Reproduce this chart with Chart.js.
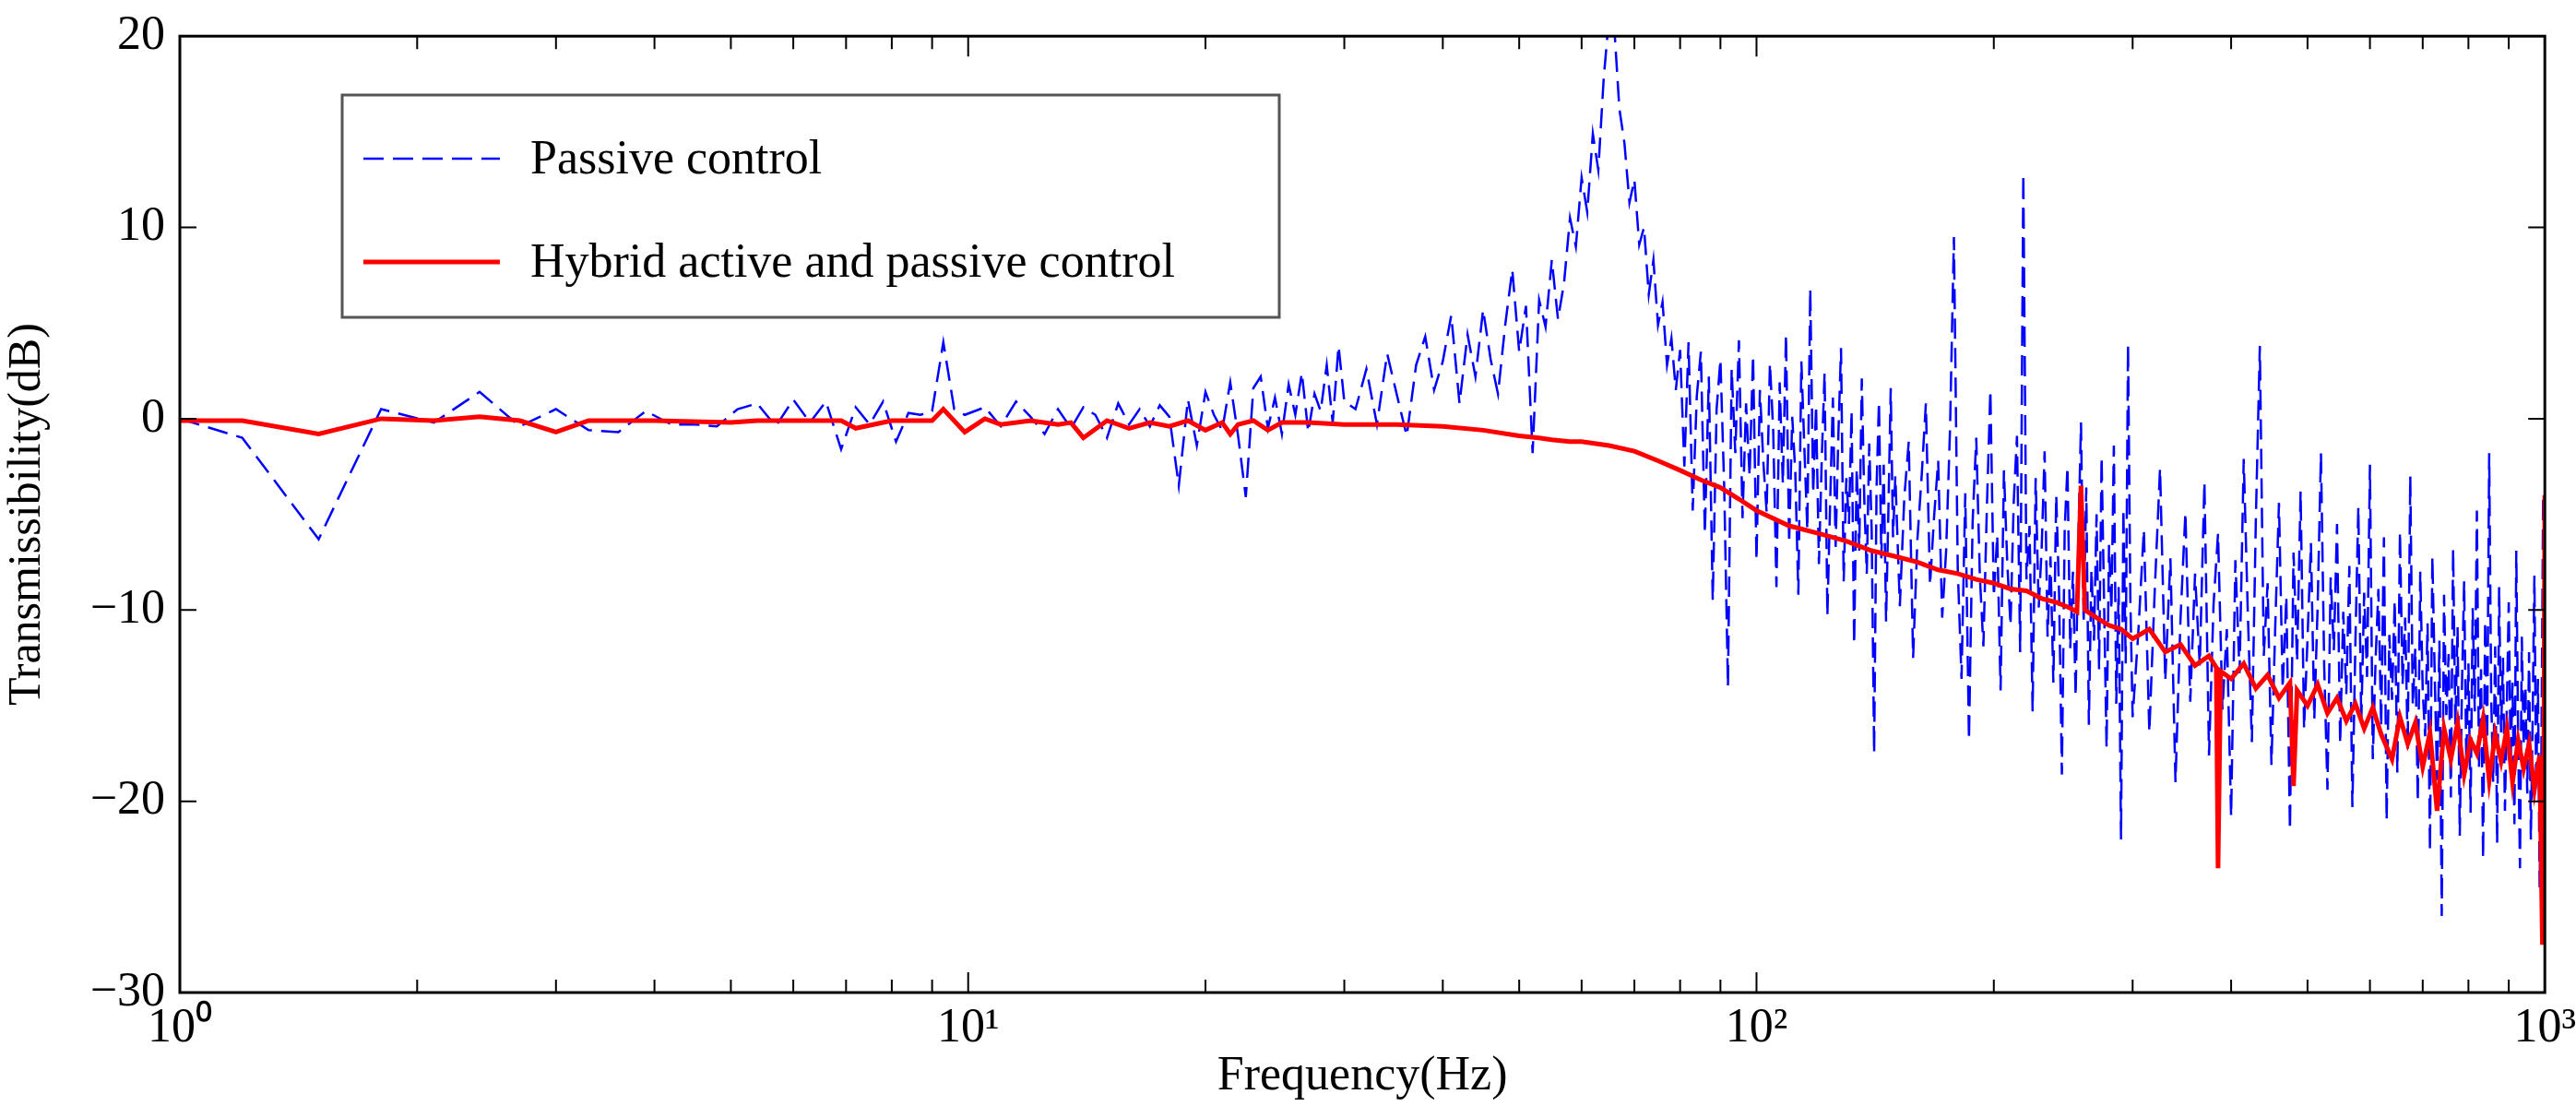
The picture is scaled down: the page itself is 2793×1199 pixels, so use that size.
<!DOCTYPE html>
<html><head><meta charset="utf-8">
<script src="https://cdn.jsdelivr.net/npm/chart.js@4"></script>
<style>html,body{margin:0;padding:0;background:#fff}#wrap{width:2793px;height:1199px}</style>
</head><body><div id="wrap"><canvas id="c" width="2793" height="1199"></canvas></div>
<script>
const seriesNames = ["Passive control", "Hybrid active and passive control"];
const xTickValues = [1, 10, 100, 1000];
const xTickLabels = ["10\u2070", "10\u00b9", "10\u00b2", "10\u00b3"];
const yTickValues = [-30, -20, -10, 0, 10, 20];

const passiveFreq = [1,1.2,1.5,1.8,2.1,2.4,2.7,3.0,3.3,3.6,3.9,4.2,4.5,4.8,5.1,5.4,5.7,6.0,6.3,6.6,6.9,7.2,7.5,7.8,8.1,8.4,8.7,9.0,9.3,9.6,9.9,
10.5,11,11.5,12,12.5,13,13.5,14,14.5,15,15.5,16,16.5,17,17.5,18,18.5,19,19.5,20,20.5,21,21.5,22,22.5,23,23.5,24,24.5,25,25.5,26,26.5,27,27.5,28,28.5,29,29.5,30,
31,32,33,34,35,36,37,38,39,40,41,42,43,44,45,46,47,48,49,50,51,52,53,54,55,56,57,58,59,60,
61,62,63,64,65,66,67,68,69,70,71,72,73,74,75,76,77,78,79,80,
81,82,83,84,85,86,87,88,89,90,91,92,93,94,95,96,97,98,99,100,101,102,103,104,105,106,107,108,109,110,111,112,113,114,115,116,117,118,119,120,121,122,123,124,125,126,127,128,129,130,131,132,133,134,135,136,137,138,139,140,141,142,143,144,145,146,147,148,149,150,
152,154,156,158,160,162,164,166,168,170,172,174,176,178,180,182,184,186,188,190,192,194,196,198,200,202,204,206,208,210,212,214,216,218,220,222,224,226,228,230,232,234,236,238,240,242,244,246,248,250,252,254,256,258,260,262,264,266,268,270,272,274,276,278,280,282,284,286,288,290,292,294,296,298,300,
305,310,315,320,325,330,335,340,345,350,355,360,365,370,375,380,385,390,395,400,405,410,415,420,425,430,435,440,445,450,455,460,465,470,475,480,485,490,495,500,505,510,515,520,525,530,535,540,545,550,555,560,565,570,575,580,585,590,595,600,605,610,615,620,625,630,635,640,645,650,655,660,665,670,675,680,685,690,695,700,705,710,715,720,725,730,735,740,745,750,755,760,765,770,775,780,785,790,795,800,805,810,815,820,825,830,835,840,845,850,855,860,865,870,875,880,885,890,895,900,905,910,915,920,925,930,935,940,945,950,955,960,965,970,975,980,985,990,995,1000];
const passiveDb = [0,-1,-6.3,0.5,-0.2,1.4,-0.4,0.5,-0.6,-0.7,0.4,-0.3,-0.3,-0.4,0.5,0.8,-0.4,1.0,-0.2,0.9,-1.6,0.6,-0.3,0.9,-1.2,0.3,0.2,0.4,4.0,0.5,0.2,
0.6,-0.4,0.9,0.1,-0.8,0.5,-0.5,0.6,0.2,-1.0,0.8,-0.3,0.5,-0.4,0.7,0.1,-3.5,1.0,-1.4,1.4,0.2,-0.6,1.9,-0.9,-4.1,1.6,2.2,-0.5,1.1,-0.8,1.8,0.2,2.4,-0.7,1.3,0.4,2.8,-0.2,3.8,0.9,
0.5,2.6,-0.3,3.4,1.2,-0.9,2.8,4.3,1.5,3.0,5.4,0.8,4.4,2.2,5.7,3.1,1.3,4.9,7.8,3.5,5.9,-1.8,6.2,4.8,8.3,5.2,7.1,10.5,9.0,12.6,
10.8,14.9,13.0,17.8,21.0,20.5,16.2,14.4,11.3,12.5,9.1,10.0,6.5,8.3,4.9,6.1,2.8,4.2,1.5,3.6,
-2.5,4.0,-4.8,1.2,3.5,-6.0,2.2,-9.5,0.5,3.1,-3.6,-14.0,2.6,-1.8,4.1,-5.2,0.8,-3.0,3.3,-7.4,1.5,-2.2,-4.9,2.9,-0.6,-8.8,1.9,-3.4,4.4,-6.5,0.1,-2.8,-9.2,3.0,-1.5,-5.8,6.8,-3.9,0.7,-7.6,-2.1,2.4,-10.3,-4.4,1.1,-6.7,-0.9,3.7,-8.5,-3.1,-5.5,0.4,-11.8,-2.6,-6.9,2.1,-4.2,-8.1,-1.3,-5.9,-17.5,-3.6,0.9,-7.3,-2.4,-10.6,-4.8,1.6,-6.2,-3.0,
-9.8,-4.1,-1.2,-12.5,-6.3,-3.0,0.8,-8.7,-5.1,-2.2,-10.4,-6.9,-0.5,9.5,-7.8,-13.6,-3.9,-16.8,-5.4,-1.0,-8.2,-11.9,-4.6,1.5,-9.3,-6.1,-14.2,-2.7,-7.5,-10.8,-4.3,-0.9,-12.2,12.8,-8.4,-5.6,-15.3,-3.1,-9.9,-6.8,-1.7,-11.4,-7.2,-13.8,-4.0,-9.1,-18.6,-5.8,-2.5,-12.0,-8.0,-14.5,-6.4,-0.2,-10.7,-3.6,-16.0,-7.9,-11.6,-5.0,-13.1,-2.0,-9.6,-17.2,-6.6,-10.0,-1.4,-14.9,-8.8,-22.0,-4.7,-12.8,3.9,-9.4,-15.6,
-11.2,-5.8,-16.4,-9.0,-2.6,-13.7,-7.3,-19.0,-10.5,-4.9,-14.8,-8.1,-12.9,-3.3,-17.6,-9.7,-6.0,-15.2,-11.0,-20.8,-7.4,-13.3,-2.1,-10.2,-16.9,-5.2,3.8,-12.4,-8.6,-18.1,-10.9,-4.4,-14.1,-9.3,-21.5,-7.0,-12.7,-3.8,-16.2,-11.5,-6.5,-15.7,-9.8,-1.8,-13.0,-19.4,-8.3,-12.1,-5.5,-17.0,-10.1,-14.4,-7.7,-20.3,-11.8,-4.6,-15.9,-9.1,-13.5,-2.4,-17.8,-12.6,-8.9,-16.1,-6.2,-21.0,-11.3,-14.7,-9.5,-18.5,-5.9,-13.9,-10.4,-17.3,-3.0,-15.0,-12.0,-20.0,-8.0,-14.2,-16.6,-10.7,-22.6,-7.2,-13.4,-18.9,-11.6,-26.0,-9.2,-15.5,-12.3,-19.8,-6.8,-16.0,-10.9,-21.8,-14.0,-8.5,-17.9,-12.8,-20.6,-9.9,-15.3,-4.8,-18.2,-13.1,-23.0,-10.6,-16.8,-1.8,-14.6,-19.0,-11.9,-22.2,-8.8,-16.4,-12.5,-20.5,-15.1,-9.6,-18.0,-13.8,-21.2,-6.9,-16.7,-23.5,-11.4,-17.1,-14.0,-19.6,-12.2,-22.0,-15.8,-8.2,-19.3,-13.6,-24.5,-17.5,-4.0,-22.5];

const hybridFreq = [1,1.2,1.5,1.8,2.1,2.4,2.7,3.0,3.3,4,5,5.4,6,6.9,7.2,8,9,9.3,9.9,10.5,11,12,13,13.5,14,15,16,17,18,19,20,21,21.5,22,23,24,25,27,30,35,40,45,50,53,55,58,60,65,70,75,80,85,90,95,
100,110,120,130,140,150,160,170,180,190,200,210,220,230,240,250,255,258,261,270,280,290,300,315,330,345,360,375,383,385,388,400,415,430,445,460,475,480,485,500,515,530,545,560,575,590,605,620,640,655,670,685,700,715,730,745,760,775,790,805,820,835,850,865,880,895,910,925,940,955,970,985,993,997,1000];
const hybridDb = [-0.1,-0.1,-0.8,0,-0.1,0.1,-0.1,-0.7,-0.1,-0.1,-0.2,-0.1,-0.1,-0.1,-0.5,-0.1,-0.1,0.5,-0.7,0.0,-0.3,-0.1,-0.3,-0.2,-1.0,-0.1,-0.5,-0.2,-0.4,-0.1,-0.6,-0.2,-0.8,-0.3,-0.1,-0.6,-0.2,-0.2,-0.3,-0.3,-0.4,-0.6,-0.9,-1.0,-1.1,-1.2,-1.2,-1.4,-1.7,-2.2,-2.7,-3.2,-3.6,-4.2,
-4.8,-5.6,-6.0,-6.4,-6.9,-7.2,-7.5,-7.9,-8.1,-8.4,-8.6,-8.9,-9.0,-9.4,-9.6,-9.9,-10.1,-3.5,-10.0,-10.4,-10.8,-11.0,-11.5,-11.0,-12.2,-11.8,-12.9,-12.4,-13.0,-23.5,-13.2,-13.6,-12.8,-14.1,-13.4,-14.6,-13.8,-19.2,-14.2,-15.0,-13.9,-15.4,-14.6,-15.8,-14.9,-16.2,-15.1,-16.5,-17.8,-15.6,-17.0,-15.9,-18.2,-16.4,-20.5,-16.2,-17.8,-15.9,-18.6,-16.8,-17.5,-15.7,-18.9,-16.5,-17.9,-16.2,-19.0,-16.8,-18.3,-17.0,-19.4,-17.6,-27.5,-18.0,-4.0];

const FONT = "Liberation Serif";
const toPts = (xs, ys) => xs.map((x, i) => ({x: x, y: ys[i]}));

const frame = {
  id: 'frame',
  afterDraw(chart) {
    const {ctx, chartArea: a, scales: {x, y}} = chart;
    ctx.save();
    ctx.strokeStyle = '#000';
    ctx.lineWidth = 3;
    ctx.strokeRect(a.left, a.top, a.right - a.left, a.bottom - a.top);
    ctx.lineWidth = 2;
    ctx.beginPath();
    for (let d = 1; d < 1000; d *= 10) {
      for (let m = 1; m <= 10; m++) {
        const v = d * m;
        if (v <= 1 || v >= 1000) continue;
        const px = x.getPixelForValue(v);
        const L = (m === 10 || m === 1) ? 22 : 14;
        ctx.moveTo(px, a.bottom); ctx.lineTo(px, a.bottom - L);
        ctx.moveTo(px, a.top); ctx.lineTo(px, a.top + L);
      }
    }
    yTickValues.forEach(v => {
      if (v <= -30 || v >= 20) return;
      const py = y.getPixelForValue(v);
      ctx.moveTo(a.left, py); ctx.lineTo(a.left + 18, py);
      ctx.moveTo(a.right, py); ctx.lineTo(a.right - 18, py);
    });
    ctx.stroke();
    const bx = 371, by = 103, bw = 1016, bh = 241;
    ctx.fillStyle = '#fff';
    ctx.fillRect(bx, by, bw, bh);
    ctx.strokeStyle = '#555';
    ctx.lineWidth = 3;
    ctx.strokeRect(bx, by, bw, bh);
    const rows = [172, 284];
    chart.data.datasets.forEach((ds, i) => {
      ctx.beginPath();
      ctx.strokeStyle = ds.borderColor;
      ctx.lineWidth = ds.borderWidth;
      ctx.setLineDash(ds.borderDash || []);
      ctx.moveTo(394, rows[i]); ctx.lineTo(542, rows[i]);
      ctx.stroke();
      ctx.setLineDash([]);
      ctx.fillStyle = '#000';
      ctx.font = '52px "' + FONT + '"';
      ctx.textBaseline = 'middle';
      ctx.fillText(ds.label, 575, rows[i] + 2);
    });
    ctx.restore();
  }
};

new Chart(document.getElementById('c'), {
  type: 'line',
  data: {
    datasets: [
      {label: seriesNames[0], data: toPts(passiveFreq, passiveDb), borderColor: '#0000ff', borderWidth: 2.5, borderDash: [22, 10], pointRadius: 0, tension: 0, fill: false, order: 2},
      {label: seriesNames[1], data: toPts(hybridFreq, hybridDb), borderColor: '#ff0000', borderWidth: 5, pointRadius: 0, tension: 0, fill: false, order: 1}
    ]
  },
  options: {
    responsive: false, animation: false, devicePixelRatio: 1,
    layout: {padding: {left: 0, right: 14, top: 37, bottom: 0}},
    plugins: {legend: {display: false}, tooltip: {enabled: false}},
    scales: {
      x: {
        type: 'logarithmic', min: 1, max: 1000,
        afterBuildTicks: s => { s.ticks = xTickValues.map(v => ({value: v})); },
        afterFit: s => { s.height = 1199 - 1076; },
        grid: {display: false},
        border: {display: false},
        ticks: {color: '#000', font: {family: FONT, size: 52}, padding: 0, maxRotation: 0,
          callback: (v) => xTickLabels[xTickValues.indexOf(v)]},
        title: {display: true, text: 'Frequency(Hz)', color: '#000', font: {family: FONT, size: 52}, padding: {top: 0, bottom: 0}}
      },
      y: {
        min: -30, max: 20,
        afterBuildTicks: s => { s.ticks = yTickValues.map(v => ({value: v})); },
        afterFit: s => { s.width = 195; },
        grid: {display: false},
        border: {display: false},
        ticks: {color: '#000', font: {family: FONT, size: 52}, padding: 8,
          callback: v => (v < 0 ? '\u2212' + Math.abs(v) : String(v))},
        title: {display: true, text: 'Transmissibility(dB)', color: '#000', font: {family: FONT, size: 50}, padding: {top: 0, bottom: 4}}
      }
    }
  },
  plugins: [frame]
});
</script></body></html>
